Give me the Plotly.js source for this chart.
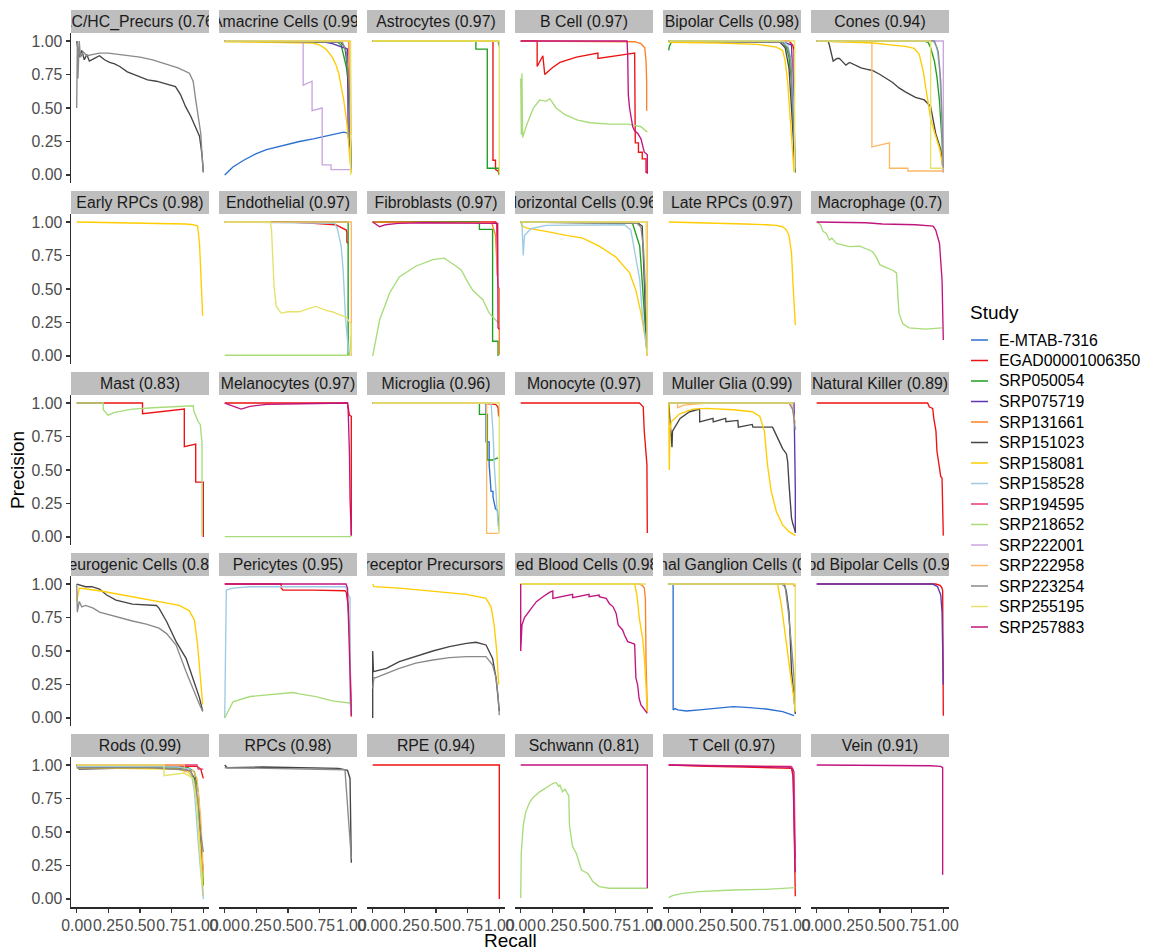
<!DOCTYPE html>
<html>
<head>
<meta charset="utf-8">
<script src="https://cdn.plot.ly/plotly-3.0.1.min.js"></script>
<style>
html,body{margin:0;padding:0;background:#fff;}
#chart{width:1149px;height:951px;}
</style>
</head>
<body>
<div id="chart"></div>
<script>
// ---------- categories / legend ----------
const studies = ['E-MTAB-7316','EGAD00001006350','SRP050054','SRP075719','SRP131661','SRP151023','SRP158081','SRP158528','SRP194595','SRP218652','SRP222001','SRP222958','SRP223254','SRP255195','SRP257883'];
const studyColors = ['#2B6FD1','#EE1111','#1F9E1F','#5E35B1','#FF7F27','#444444','#FFCC00','#9DCBE3','#E8386D','#A8DC7A','#C9A6DE','#FDB866','#8A8A8A','#E5E26A','#C0157F'];

const panelTitles = ['AC/HC_Precurs (0.76)','Amacrine Cells (0.99)','Astrocytes (0.97)','B Cell (0.97)','Bipolar Cells (0.98)','Cones (0.94)',
  'Early RPCs (0.98)','Endothelial (0.97)','Fibroblasts (0.97)','Horizontal Cells (0.96)','Late RPCs (0.97)','Macrophage (0.7)',
  'Mast (0.83)','Melanocytes (0.97)','Microglia (0.96)','Monocyte (0.97)','Muller Glia (0.99)','Natural Killer (0.89)',
  'Neurogenic Cells (0.84)','Pericytes (0.95)','Photoreceptor Precursors (0.88)','Red Blood Cells (0.98)','Retinal Ganglion Cells (0.98)','Rod Bipolar Cells (0.99)',
  'Rods (0.99)','RPCs (0.98)','RPE (0.94)','Schwann (0.81)','T Cell (0.97)','Vein (0.91)'];

const recallTicks = [0, 0.25, 0.5, 0.75, 1];
const recallTickText = ['0.00','0.25','0.50','0.75','1.00'];
const precisionTicks = [0, 0.25, 0.5, 0.75, 1];
const precisionTickText = ['0.00','0.25','0.50','0.75','1.00'];

// ---------- series: [study, recall[], precision[]] per panel ----------
const acHcPrecurs = [
  ['SRP151023',[0,0.01,0.02,0.04,0.06,0.08,0.1,0.14,0.18,0.22,0.26,0.3,0.34,0.4,0.5,0.56,0.63,0.7,0.78,0.82,0.86,0.9,0.94,0.97,0.99,1.0],
               [1.0,0.92,0.88,0.93,0.86,0.9,0.85,0.87,0.89,0.86,0.84,0.83,0.81,0.77,0.73,0.71,0.7,0.68,0.66,0.6,0.51,0.44,0.36,0.29,0.15,0.02]],
  ['SRP223254',[0,0.005,0.01,0.02,0.03,0.05,0.08,0.12,0.18,0.25,0.35,0.5,0.6,0.7,0.8,0.89,0.92,0.94,0.96,0.98,0.99,1.0],
               [0.5,1.0,0.72,1.0,0.88,0.92,0.89,0.9,0.91,0.91,0.9,0.88,0.86,0.83,0.8,0.76,0.7,0.56,0.45,0.31,0.15,0.02]]
];
const amacrine = [
  ['E-MTAB-7316',[0,0.02,0.065,0.15,0.25,0.33,0.45,0.59,0.7,0.85,0.94,0.98],[0.0,0.02,0.06,0.11,0.16,0.19,0.22,0.25,0.27,0.3,0.32,0.31]],
  ['SRP050054',[0,0.88,0.92,0.96,0.98,0.99,1.0],[1,1,0.97,0.81,0.66,0.4,0.02]],
  ['SRP075719',[0,0.8,0.85,0.96,0.97,0.975,0.99,1.0],[1,0.99,0.98,0.94,0.94,0.3,0.2,0.05]],
  ['SRP131661',[0,0.98,0.99,1.0],[1,1,0.42,0.02]],
  ['SRP151023',[0,0.92,0.95,0.97,0.985,1.0],[1,0.99,0.95,0.8,0.5,0.05]],
  ['SRP158081',[0,0.5,0.7,0.75,0.8,0.85,0.88,0.9,0.92,0.94,0.96,0.97,0.99,1.0],[0.995,0.99,0.985,0.97,0.94,0.88,0.82,0.76,0.67,0.56,0.42,0.34,0.1,0.02]],
  ['SRP222001',[0,0.62,0.62,0.69,0.69,0.77,0.77,0.84,0.84,0.98,0.99],[1,1,0.67,0.7,0.48,0.5,0.075,0.075,0.04,0.04,0.04]],
  ['SRP222958',[0,0.99,1.0],[1,1,0.3]],
  ['SRP223254',[0,0.93,0.96,0.98,0.99,1.0],[1,0.99,0.92,0.7,0.4,0.05]],
  ['SRP255195',[0,0.995,0.995],[1,1,0.0]]
];
const astrocytes = [
  ['E-MTAB-7316',[0,0.99,1.0],[1,1,0.96]],
  ['EGAD00001006350',[0,0.95,0.95,0.97,0.97,0.99,1.0],[1,1,0.11,0.11,0.04,0.03,0.0]],
  ['SRP050054',[0,0.815,0.815,0.905,0.905,0.995,1.0],[1,1,0.94,0.94,0.05,0.05,0.0]],
  ['SRP158081',[0,0.99,1.0],[1,1,0.99]],
  ['SRP255195',[0,1.0,1.0],[1,1,0.0]]
];
const bCell = [
  ['EGAD00001006350',[0,0.13,0.13,0.175,0.19,0.25,0.31,0.44,0.61,0.61,0.83,0.9,0.905,0.93,0.93,0.96,0.96,0.99,0.99,1.0],
                     [1,1,0.81,0.89,0.75,0.8,0.84,0.88,0.91,0.87,0.9,0.91,0.24,0.24,0.17,0.17,0.12,0.12,0.02,0.02]],
  ['SRP131661',[0,0.82,0.9,0.95,0.98,0.99,0.995,0.995],[1,1,0.995,0.98,0.95,0.85,0.7,0.48]],
  ['SRP218652',[0,0.005,0.01,0.015,0.05,0.1,0.15,0.2,0.23,0.28,0.35,0.45,0.55,0.7,0.85,0.95,1.0],
               [0.72,0.3,0.76,0.28,0.38,0.5,0.56,0.55,0.57,0.5,0.45,0.41,0.39,0.38,0.38,0.36,0.32]],
  ['SRP257883',[0,0.84,0.845,0.85,0.86,0.875,0.885,0.9,0.925,0.95,0.965,0.976,0.99,1.0,1.0],
               [1,1,0.9,0.6,0.5,0.4,0.36,0.33,0.31,0.27,0.2,0.17,0.16,0.15,0.01]]
];
const bipolar = [
  ['EGAD00001006350',[0,0.95,0.98,0.99,0.99],[1,1,0.97,0.93,0.05]],
  ['SRP050054',[0,0.005,0.02,0.05,0.85,0.9,0.93,0.95,0.97,0.99,1.0],[0.93,0.96,0.99,1,1,0.99,0.95,0.88,0.7,0.3,0.02]],
  ['SRP075719',[0,0.85,0.9,0.97,0.985,1.0],[1,1,0.995,0.97,0.6,0.05]],
  ['SRP151023',[0,0.88,0.92,0.95,0.97,0.99,1.0],[1,0.99,0.95,0.8,0.5,0.15,0.02]],
  ['SRP158081',[0,0.4,0.7,0.85,0.9,0.92,0.94,0.955,0.97,0.99],[0.99,0.985,0.975,0.955,0.93,0.85,0.69,0.5,0.31,0.02]],
  ['SRP158528',[0,0.9,0.94,0.97,0.99,1.0],[1,1,0.97,0.85,0.4,0.05]],
  ['SRP223254',[0,0.9,0.94,0.965,0.98,1.0],[1,0.99,0.95,0.85,0.5,0.05]],
  ['SRP255195',[0,0.995,0.995],[1,1,0.02]]
];
const cones = [
  ['SRP050054',[0,0.85,0.88,0.9,0.93,0.95,0.97,0.98,0.99,1.0],[1,1,0.99,0.95,0.85,0.73,0.55,0.43,0.25,0.05]],
  ['SRP151023',[0,0.09,0.1,0.115,0.13,0.16,0.18,0.2,0.23,0.26,0.3,0.35,0.39,0.44,0.5,0.57,0.6,0.65,0.7,0.78,0.85,0.9,0.92,0.94,0.96,0.98,1.0],
               [1,1,0.97,0.91,0.85,0.87,0.87,0.85,0.82,0.84,0.82,0.8,0.79,0.78,0.75,0.71,0.69,0.65,0.62,0.58,0.56,0.51,0.42,0.31,0.25,0.19,0.02]],
  ['SRP158081',[0,0.3,0.45,0.6,0.7,0.77,0.81,0.84,0.86,0.88,0.9,0.93,0.97,0.99,1.0],[1,0.99,0.985,0.97,0.96,0.945,0.9,0.78,0.65,0.54,0.42,0.32,0.2,0.1,0.02]],
  ['SRP158528',[0,0.92,0.95,0.97,0.985,1.0],[1,1,0.95,0.8,0.5,0.05]],
  ['SRP222001',[0,1.0,1.0],[1,1,0.02]],
  ['SRP222958',[0,0.436,0.436,0.575,0.575,0.72,0.72,1.0],[1,1,0.21,0.24,0.05,0.05,0.03,0.03]],
  ['SRP223254',[0,0.93,0.96,0.98,0.99,1.0],[1,1,0.92,0.7,0.4,0.05]],
  ['SRP255195',[0,0.9,0.9,1.0],[1,1,0.05,0.05]]
];
const earlyRPCs = [
  ['SRP158081',[0,0.3,0.6,0.8,0.86,0.92,0.955,0.97,0.98,0.99,0.995],[1,0.995,0.995,0.99,0.985,0.98,0.97,0.84,0.57,0.35,0.3]]
];
const endothelial = [
  ['EGAD00001006350',[0,0.51,0.7,0.876,0.96,0.965,0.965,0.975],[1,1,0.99,0.98,0.94,0.92,0.85,0.84]],
  ['SRP050054',[0,0.975,0.975],[1,1,0.0]],
  ['SRP158528',[0,0.87,0.89,0.92,0.935,0.945,0.955,0.97,0.98],[1,0.99,0.95,0.82,0.65,0.4,0.27,0.12,0.02]],
  ['SRP218652',[0,0.985,1.0],[0.005,0.005,0.15]],
  ['SRP222958',[0,1.0,1.0],[1,1,0.0]],
  ['SRP255195',[0,0.36,0.37,0.38,0.39,0.407,0.446,0.5,0.59,0.65,0.72,0.8,0.85,0.9,0.96,0.98,1.0,1.0],
               [1,1,0.94,0.69,0.52,0.37,0.32,0.33,0.33,0.35,0.37,0.34,0.33,0.31,0.29,0.26,0.24,0.02]]
];
const fibroblasts = [
  ['EGAD00001006350',[0,0.97,0.98,0.985],[1,1,0.99,0.6]],
  ['SRP050054',[0,0.843,0.843,0.947,0.947,0.99,0.99],[1,1,0.945,0.945,0.11,0.11,0.0]],
  ['SRP131661',[0,0.94,0.97,0.98,0.99,1.0,1.0],[1,0.995,0.9,0.69,0.52,0.5,0.01]],
  ['SRP218652',[0,0.055,0.134,0.21,0.34,0.475,0.567,0.58,0.66,0.7,0.74,0.79,0.87,0.92,1.0],
               [0.0,0.27,0.47,0.59,0.67,0.72,0.73,0.72,0.67,0.64,0.57,0.49,0.42,0.32,0.24]],
  ['SRP257883',[0,0.055,0.1,0.2,0.4,0.8,0.987,0.99,1.0],[1,0.965,0.98,0.99,0.995,0.995,0.99,0.21,0.2]]
];
const horizontal = [
  ['SRP050054',[0,0.88,0.9,0.94,0.95,0.96,0.98,0.99,1.0],[1,1,0.94,0.82,0.69,0.57,0.27,0.1,0.02]],
  ['SRP151023',[0,0.93,0.96,0.97,0.98,0.99,1.0],[1,0.99,0.97,0.69,0.49,0.2,0.02]],
  ['SRP158081',[0,0.01,0.05,0.1,0.2,0.36,0.49,0.62,0.75,0.86,0.91,0.95,0.99,1.0],[1,0.97,0.955,0.945,0.93,0.9,0.88,0.82,0.74,0.62,0.49,0.32,0.095,0.0]],
  ['SRP158528',[0.01,0.02,0.03,0.08,0.2,0.5,0.82,0.87,0.91,0.94,0.96,0.99,1.0],[1.0,0.75,0.9,0.95,0.975,0.98,0.98,0.94,0.74,0.57,0.32,0.1,0.02]],
  ['SRP222958',[0,1.0,1.0],[1,1,0.0]],
  ['SRP223254',[0,0.92,0.95,0.97,0.985,1.0],[1,0.99,0.96,0.8,0.5,0.05]],
  ['SRP255195',[0,0.99,1.0],[1,1,0.02]]
];
const lateRPCs = [
  ['SRP158081',[0,0.3,0.6,0.77,0.85,0.9,0.93,0.95,0.97,0.98,0.99,1.0],[1,0.99,0.985,0.98,0.975,0.965,0.94,0.9,0.77,0.57,0.4,0.23]]
];
const macrophage = [
  ['SRP218652',[0,0.03,0.05,0.076,0.1,0.12,0.155,0.2,0.26,0.34,0.39,0.44,0.47,0.5,0.55,0.6,0.63,0.64,0.65,0.68,0.73,0.86,0.99],
               [1,0.98,0.93,0.915,0.866,0.88,0.84,0.83,0.816,0.82,0.8,0.78,0.74,0.68,0.66,0.64,0.62,0.49,0.32,0.24,0.21,0.2,0.21]],
  ['SRP257883',[0,0.2,0.39,0.52,0.78,0.92,0.94,0.97,0.98,0.99,1.0],[1,1,0.995,0.985,0.98,0.97,0.94,0.84,0.69,0.57,0.12]]
];
const mast = [
  ['EGAD00001006350',[0,0.52,0.52,0.85,0.85,0.94,0.94,0.98,1.0,1.0],[1,1,0.92,0.955,0.674,0.694,0.41,0.41,0.41,0.0]],
  ['SRP218652',[0,0.21,0.21,0.247,0.3,0.44,0.6,0.71,0.85,0.92,0.925,0.94,0.96,0.976,0.986,0.99,0.99],
               [1,1,0.95,0.91,0.93,0.955,0.965,0.97,0.975,0.98,0.94,0.9,0.86,0.84,0.75,0.7,0.01]]
];
const melanocytes = [
  ['EGAD00001006350',[0,0.97,0.985,1.0,1.0],[1,1,0.91,0.9,0.01]],
  ['SRP218652',[0,1.0],[0.003,0.003]],
  ['SRP257883',[0,0.13,0.2,0.33,0.6,0.97,0.975,0.985,0.99,1.0],[1,0.955,0.975,0.99,0.995,1.0,0.95,0.64,0.29,0.01]]
];
const microglia = [
  ['E-MTAB-7316',[0,0.895,0.895,0.92,0.92,0.935,0.95,0.95,0.97,0.985,1.0],[1,1,0.71,0.71,0.54,0.34,0.34,0.3,0.21,0.2,0.06]],
  ['EGAD00001006350',[0,0.85,0.97,0.99,0.995],[1,1,0.99,0.97,0.9]],
  ['SRP050054',[0,0.843,0.843,0.906,0.906,0.947,0.99],[1,1,0.915,0.915,0.575,0.575,0.59]],
  ['SRP158528',[0,0.935,0.95,0.96,0.975,0.99,1.0],[1,1,0.79,0.54,0.32,0.09,0.04]],
  ['SRP222958',[0,0.9,0.9,0.995],[1,1,0.027,0.027]],
  ['SRP255195',[0,1.0,1.0],[1,1,0.03]]
];
const monocyte = [
  ['EGAD00001006350',[0,0.937,0.95,0.968,0.976,0.99,0.997,1.0],[1,1,0.99,0.97,0.79,0.56,0.54,0.03]]
];
const muller = [
  ['SRP075719',[0,0.99,1.0,1.0],[1,1,0.36,0.03]],
  ['SRP151023',[0,0.026,0.03,0.09,0.165,0.244,0.245,0.35,0.352,0.45,0.452,0.546,0.55,0.66,0.665,0.74,0.82,0.835,0.85,0.87,0.9,0.93,0.94,0.95,0.96,0.97,0.98,1.0],
               [1,0.67,0.79,0.885,0.935,0.955,0.86,0.885,0.86,0.885,0.86,0.87,0.82,0.84,0.82,0.82,0.82,0.79,0.76,0.71,0.66,0.62,0.56,0.4,0.24,0.14,0.1,0.04]],
  ['SRP158081',[0,0.005,0.01,0.02,0.087,0.19,0.3,0.51,0.66,0.72,0.756,0.78,0.81,0.85,0.9,0.95,1.0],[1,0.5,0.79,0.86,0.92,0.955,0.96,0.95,0.935,0.9,0.79,0.54,0.34,0.19,0.09,0.04,0.01]],
  ['SRP222958',[0,0.07,0.07,0.12,0.3,0.97,1.0],[1,1,0.965,0.985,1.0,1.0,0.85]],
  ['SRP223254',[0,0.95,0.98,1.0],[1,1,0.95,0.8]],
  ['SRP255195',[0,0.99],[1,1]]
];
const naturalKiller = [
  ['EGAD00001006350',[0,0.876,0.89,0.916,0.925,0.942,0.95,0.963,0.98,0.99,0.998,1.0],[1,1,0.97,0.96,0.885,0.79,0.64,0.54,0.45,0.44,0.19,0.01]]
];
const neurogenic = [
  ['SRP151023',[0,0.03,0.07,0.12,0.18,0.234,0.31,0.44,0.63,0.65,0.71,0.785,0.864,0.916,0.97,0.995],[1,0.99,0.98,0.98,0.963,0.92,0.88,0.85,0.84,0.82,0.72,0.57,0.445,0.3,0.15,0.05]],
  ['SRP158081',[0,0.02,0.18,0.44,0.71,0.81,0.89,0.93,0.955,0.976,0.995],[0.873,0.97,0.95,0.905,0.86,0.84,0.8,0.73,0.545,0.3,0.1]],
  ['SRP223254',[0,0.005,0.02,0.04,0.07,0.13,0.18,0.31,0.44,0.55,0.65,0.71,0.785,0.864,0.916,0.97,0.995],[1,0.79,0.87,0.83,0.84,0.82,0.79,0.756,0.724,0.7,0.67,0.63,0.545,0.346,0.22,0.1,0.05]]
];
const pericytes = [
  ['EGAD00001006350',[0,0.446,0.446,0.46,0.7,0.9,0.95,0.96,0.975,0.985,1.0],[1,1,0.97,0.955,0.955,0.955,0.95,0.94,0.84,0.68,0.01]],
  ['SRP158528',[0,0.005,0.013,0.065,0.2,0.6,0.958,0.975,0.99,0.99,1.0],[0.0,0.5,0.955,0.97,0.98,0.98,0.98,0.92,0.9,0.12,0.03]],
  ['SRP218652',[0,0.065,0.2,0.33,0.46,0.54,0.59,0.72,0.85,1.0],[0,0.12,0.16,0.17,0.185,0.19,0.18,0.16,0.127,0.11]],
  ['SRP257883',[0,0.958,0.97,0.985,0.995,1.0],[1,1,0.97,0.545,0.25,0.02]]
];
const photoreceptor = [
  ['SRP151023',[0,0,0.006,0.03,0.108,0.21,0.34,0.475,0.606,0.74,0.816,0.895,0.947,0.974,0.99,1.0],[0.0,0.5,0.345,0.35,0.37,0.42,0.458,0.5,0.532,0.557,0.565,0.545,0.445,0.3,0.15,0.05]],
  ['SRP158081',[0,0.01,0.21,0.475,0.74,0.895,0.935,0.96,0.98,0.995],[1,0.98,0.97,0.948,0.923,0.893,0.83,0.69,0.495,0.25]],
  ['SRP223254',[0,0.005,0.01,0.02,0.05,0.21,0.34,0.475,0.606,0.74,0.895,0.947,0.974,0.99,1.0],[0.22,0.25,0.3,0.3,0.31,0.37,0.41,0.433,0.45,0.458,0.458,0.395,0.3,0.17,0.02]]
];
const redBlood = [
  ['SRP131661',[0,0.937,0.96,0.976,0.985,0.99,1.0],[1,1,0.99,0.97,0.89,0.42,0.05]],
  ['SRP158081',[0,0.9,0.918,0.937,0.963,0.975,0.99,1.0],[1,1,0.918,0.744,0.595,0.47,0.246,0.047]],
  ['SRP255195',[0,0.99],[1,1]],
  ['SRP257883',[0,0.0,0.01,0.03,0.084,0.124,0.176,0.23,0.254,0.254,0.41,0.41,0.54,0.54,0.62,0.62,0.675,0.7,0.73,0.754,0.77,0.805,0.82,0.845,0.885,0.9,0.905,0.91,0.924,0.935,0.95,0.976,1.0],
               [1,0.5,0.694,0.75,0.818,0.868,0.905,0.94,0.948,0.893,0.923,0.898,0.923,0.905,0.918,0.905,0.893,0.855,0.83,0.78,0.694,0.657,0.62,0.57,0.557,0.55,0.42,0.3,0.246,0.147,0.097,0.06,0.035]]
];
const retinalGanglion = [
  ['E-MTAB-7316',[0,0.035,0.035,0.05,0.072,0.1,0.14,0.244,0.376,0.51,0.64,0.77,0.9,0.99],[1,1,0.06,0.07,0.06,0.058,0.052,0.06,0.072,0.085,0.077,0.067,0.047,0.017]],
  ['SRP131661',[0,0.98,1.0],[1,1,0.98]],
  ['SRP151023',[0,0.913,0.93,0.95,0.96,0.97,0.99,1.0],[1,1,0.94,0.79,0.6,0.35,0.15,0.03]],
  ['SRP158081',[0,0.86,0.89,0.913,0.94,0.966,0.99,1.0],[1,1,0.843,0.67,0.47,0.296,0.147,0.047]],
  ['SRP223254',[0,0.89,0.92,0.945,0.97,0.99,1.0],[1,1,0.98,0.79,0.54,0.3,0.1]],
  ['SRP255195',[0,1.0,1.0],[1,1,0.05]]
];
const rodBipolar = [
  ['EGAD00001006350',[0,0.94,0.975,0.99,0.995,0.995,1.0],[1,1,0.99,0.97,0.95,0.445,0.017]],
  ['SRP075719',[0,0.916,0.955,0.98,0.99,0.995,1.0],[1,1,0.98,0.918,0.79,0.545,0.25]]
];
const rods = [
  ['EGAD00001006350',[0,0.9,0.95,0.98,1.0],[1,0.995,0.99,0.97,0.9]],
  ['SRP050054',[0,0.5,0.88,0.93,0.96,0.98,1.0],[0.99,0.985,0.98,0.95,0.8,0.5,0.1]],
  ['SRP151023',[0,0.02,0.5,0.85,0.9,0.93,0.95,0.97,0.99,1.0],[1,0.97,0.98,0.97,0.95,0.9,0.75,0.5,0.3,0.2]],
  ['SRP158081',[0,0.5,0.8,0.88,0.92,0.95,0.97,0.99,1.0],[0.98,0.975,0.97,0.95,0.9,0.75,0.5,0.2,0.02]],
  ['SRP158528',[0,0.8,0.9,0.93,0.95,0.97,1.0],[0.99,0.985,0.97,0.8,0.55,0.3,0.0]],
  ['SRP194595',[0,0.95,0.96,1.0],[1,1,0.97,0.97]],
  ['SRP222958',[0,0.85,0.85,0.92,0.95,0.98,1.0],[1,1,0.95,0.96,0.9,0.6,0.2]],
  ['SRP223254',[0,0.6,0.9,0.94,0.97,1.0],[0.98,0.98,0.96,0.85,0.55,0.35]],
  ['SRP255195',[0,0.69,0.69,0.85,0.92,0.95,0.99],[1,1,0.92,0.94,0.9,0.7,0.1]]
];
const rpcs = [
  ['SRP151023',[0,0.02,0.3,0.6,0.9,0.97,0.99,1.0],[1.0,0.98,0.985,0.98,0.975,0.96,0.9,0.27]],
  ['SRP223254',[0,0.5,0.95,1.0],[0.98,0.975,0.965,0.3]]
];
const rpe = [
  ['EGAD00001006350',[0,1.0,1.0],[1,1,0.0]]
];
const schwann = [
  ['SRP218652',[0,0.005,0.02,0.04,0.07,0.1,0.15,0.2,0.25,0.28,0.3,0.31,0.33,0.35,0.37,0.38,0.385,0.4,0.41,0.44,0.48,0.53,0.57,0.62,0.7,1.0],
               [0.007,0.35,0.55,0.65,0.72,0.76,0.8,0.83,0.86,0.87,0.84,0.85,0.8,0.82,0.78,0.77,0.55,0.44,0.39,0.34,0.216,0.19,0.13,0.092,0.08,0.08]],
  ['SRP257883',[0,1.0,1.0],[1,1,0.08]]
];
const tCell = [
  ['EGAD00001006350',[0,0.1,0.3,0.6,0.9,0.97,0.985,0.99,1.0],[1,0.995,0.99,0.985,0.98,0.975,0.9,0.5,0.02]],
  ['SRP194595',[0,0.5,0.97,0.99,1.0],[1,0.995,0.99,0.95,0.3]],
  ['SRP218652',[0,0.03,0.11,0.24,0.51,0.77,1.0],[0.01,0.025,0.042,0.055,0.067,0.072,0.085]],
  ['SRP257883',[0,0.2,0.6,0.95,0.98,0.99,1.0],[1,0.995,0.99,0.985,0.97,0.6,0.2]]
];
const vein = [
  ['SRP257883',[0,0.5,0.9,0.98,0.99,0.995,0.995],[1,1,0.995,0.99,0.985,0.98,0.18]]
];

const panels = [acHcPrecurs, amacrine, astrocytes, bCell, bipolar, cones,
  earlyRPCs, endothelial, fibroblasts, horizontal, lateRPCs, macrophage,
  mast, melanocytes, microglia, monocyte, muller, naturalKiller,
  neurogenic, pericytes, photoreceptor, redBlood, retinalGanglion, rodBipolar,
  rods, rpcs, rpe, schwann, tCell, vein];

// ---------- layout geometry ----------
const W = 1149, H = 951;
const FONT = 'Liberation Sans, Arial, Helvetica, sans-serif';
const NCOL = 6, NROW = 5;
const panelLeft = c => 71 + 148 * c;
const panelW = 138;
const stripTop = r => 10 + 181 * r;
const stripH = 23;
const plotTop = r => stripTop(r) + stripH;
const plotH = 150;
const px = v => v / W;
const py = v => 1 - v / H;

const traces = [];
const layout = {
  width: W, height: H,
  margin: {l: 0, r: 0, t: 0, b: 0, pad: 0},
  paper_bgcolor: '#ffffff', plot_bgcolor: '#ffffff',
  font: {family: FONT, size: 15.8, color: '#4D4D4D'},
  showlegend: false,
  annotations: [], shapes: []
};

panels.forEach((curves, i) => {
  const r = Math.floor(i / NCOL), c = i % NCOL;
  const sfx = i === 0 ? '' : String(i + 1);
  const sorted = curves.slice().sort((a, b) => studies.indexOf(a[0]) - studies.indexOf(b[0]));
  sorted.forEach(([study, rec, prec]) => {
    traces.push({
      type: 'scatter', mode: 'lines', x: rec, y: prec,
      xaxis: 'x' + sfx, yaxis: 'y' + sfx, name: study,
      line: {color: studyColors[studies.indexOf(study)], width: 1.35},
      showlegend: false, hoverinfo: 'skip'
    });
  });
  const bottom = r === NROW - 1, left = c === 0;
  layout['xaxis' + sfx] = {
    domain: [px(panelLeft(c)), px(panelLeft(c) + panelW)],
    range: [-0.045, 1.045], anchor: 'y' + sfx,
    showgrid: false, zeroline: false, fixedrange: true,
    showline: bottom, linecolor: '#2a2a2a', linewidth: 1.5,
    ticks: bottom ? 'outside' : '', ticklen: 4, tickwidth: 1.1, tickcolor: '#333333',
    showticklabels: bottom, tickvals: recallTicks, ticktext: recallTickText, tickangle: 0,
    tickfont: {family: FONT, size: 15.8, color: '#4D4D4D'}
  };
  layout['yaxis' + sfx] = {
    domain: [py(plotTop(r) + plotH), py(plotTop(r))],
    range: [-0.06, 1.06], anchor: 'x' + sfx,
    showgrid: false, zeroline: false, fixedrange: true,
    showline: left, linecolor: '#2a2a2a', linewidth: 1.5,
    ticks: left ? 'outside' : '', ticklen: 4, tickwidth: 1.1, tickcolor: '#333333',
    showticklabels: left, tickvals: precisionTicks, ticktext: precisionTickText,
    tickfont: {family: FONT, size: 15.8, color: '#4D4D4D'}
  };
  layout.annotations.push({
    xref: 'paper', yref: 'paper',
    x: px(panelLeft(c) + panelW / 2), y: py(stripTop(r) + stripH / 2),
    xanchor: 'center', yanchor: 'middle', align: 'center',
    text: panelTitles[i], showarrow: false,
    width: panelW, height: stripH, bgcolor: '#BEBEBE',
    borderpad: 0, borderwidth: 0,
    font: {family: FONT, size: 15.8, color: '#1A1A1A'}
  });
});

// axis titles
layout.annotations.push({
  xref: 'paper', yref: 'paper', x: px(17), y: py(470), xanchor: 'center', yanchor: 'middle',
  text: 'Precision', textangle: -90, showarrow: false,
  font: {family: FONT, size: 19, color: '#000000'}
});
layout.annotations.push({
  xref: 'paper', yref: 'paper', x: px(510), y: py(940), xanchor: 'center', yanchor: 'middle',
  text: 'Recall', showarrow: false,
  font: {family: FONT, size: 19, color: '#000000'}
});

// legend (drawn as shapes + text)
layout.annotations.push({
  xref: 'paper', yref: 'paper', x: px(969), y: py(313), xanchor: 'left', yanchor: 'middle',
  text: 'Study', showarrow: false, borderpad: 0,
  font: {family: FONT, size: 19, color: '#000000'}
});
studies.forEach((s, k) => {
  const yy = 340 + 20.5 * k;
  layout.shapes.push({
    type: 'line', xref: 'paper', yref: 'paper',
    x0: px(971), x1: px(988), y0: py(yy), y1: py(yy),
    line: {color: studyColors[k], width: 1.5}
  });
  layout.annotations.push({
    xref: 'paper', yref: 'paper', x: px(998), y: py(yy), xanchor: 'left', yanchor: 'middle',
    text: s, showarrow: false, borderpad: 0,
    font: {family: FONT, size: 15.8, color: '#000000'}
  });
});

Plotly.newPlot('chart', traces, layout, {displayModeBar: false, staticPlot: true});
</script>
</body>
</html>
